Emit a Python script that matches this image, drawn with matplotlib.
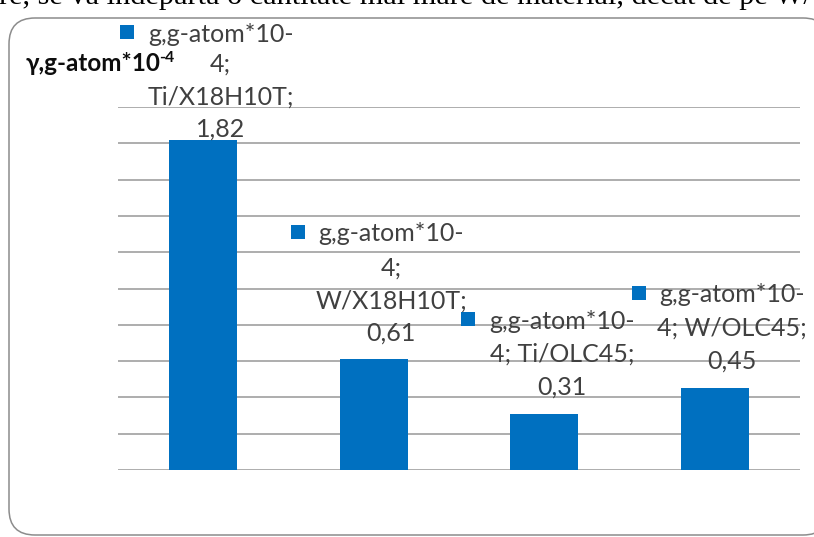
import matplotlib.pyplot as plt
from matplotlib.patches import FancyBboxPatch
from matplotlib.transforms import IdentityTransform, ScaledTranslation

# data
categories = ['Ti/X18H10T', 'W/X18H10T', 'Ti/OLC45', 'W/OLC45']
values = [1.82, 0.61, 0.31, 0.45]
series_name = 'g,g-atom*10-4'
grid_values = [0.0, 0.2, 0.4, 0.6, 0.8, 1.0, 1.2, 1.4, 1.6, 1.8, 2.0]
y_title = 'γ,g-atom*10'
y_title_exp = '-4'
page_text = 're, se va îndepărta o cantitate mai mare de material, decât de pe W/O'

W, H = 814, 537
BLUE = '#0070C0'
TXT = '#404040'

plt.rcParams['font.family'] = ['Lato', 'DejaVu Sans']

fig = plt.figure(figsize=(W / 100, H / 100), dpi=100)

# cut-off line of the document text above the chart
fig.text(-1 / W, 1 - 4 / H, page_text, family='Liberation Serif', fontsize=21.8,
         color='black', va='baseline', ha='left')

# chart frame (rounded, runs off right/bottom edge)
frame = FancyBboxPatch((9, 2), 820, H - 18 - 2, boxstyle='round,pad=0,rounding_size=26',
                       transform=IdentityTransform(), facecolor='white',
                       edgecolor='#8c8c8c', linewidth=1.1, zorder=-5)
fig.add_artist(frame)

ax = fig.add_axes([118 / W, 1 - 470 / H, (800 - 118) / W, (470 - 107) / H])
ax.set_facecolor('none')
x = list(range(len(categories)))
ax.bar(x, values, width=0.4, color=BLUE, zorder=3)

ax.set_xlim(-0.5, len(categories) - 0.5)
ax.set_ylim(0, 2.0)
ax.set_yticks(grid_values)
ax.set_xticks([])
ax.yaxis.grid(True, color='#a0a0a0', linewidth=1.2)
ax.tick_params(axis='y', length=0, labelleft=False)
for s in ax.spines.values():
    s.set_visible(False)
ax.set_axisbelow(True)

# axis title with superscript exponent
yt = fig.text(26 / W, 1 - 71 / H, y_title, fontsize=17.5, fontweight='bold',
              color='#0d0d0d', va='baseline', ha='left')
fig.canvas.draw()
ax.annotate(y_title_exp, xy=(1, 1), xycoords=yt, xytext=(-2, 1), textcoords='offset pixels',
            fontsize=11.5, fontweight='bold', color='#0d0d0d', va='top', ha='left')

# data labels: series name; category; value  (wrapped like in Excel)
head, tail = series_name.split('10-')
head = head + '10-'
base_off = [3, 19, 19, 20]
line_gaps = [[30, 33, 32], [34, 33, 32], [33, 33], [33, 33]]
for i, (cat, v) in enumerate(zip(categories, values)):
    val_str = f'{v:.2f}'.replace('.', ',')
    if i < 2:
        lines = [head, tail + ';', cat + ';', val_str]
    else:
        lines = [head, tail + '; ' + cat + ';', val_str]
    gaps = line_gaps[i]
    dy = base_off[i]
    offs = [dy]
    for g in reversed(gaps):
        dy += g
        offs.append(dy)
    offs = offs[::-1]
    for line, dy in zip(lines, offs):
        ax.annotate(line, xy=(i, v), xytext=(17.5, dy), textcoords='offset pixels',
                    ha='center', va='baseline', fontsize=18, color=TXT,
                    annotation_clip=False)
    first_dy = offs[0] + 9.5
    tr = ax.transData + ScaledTranslation(-76 / 100, first_dy / 100, fig.dpi_scale_trans)
    ax.plot([i], [v], marker='s', markersize=10, color=BLUE, markeredgewidth=0,
            transform=tr, clip_on=False)

fig.savefig('out.png', dpi=100)
